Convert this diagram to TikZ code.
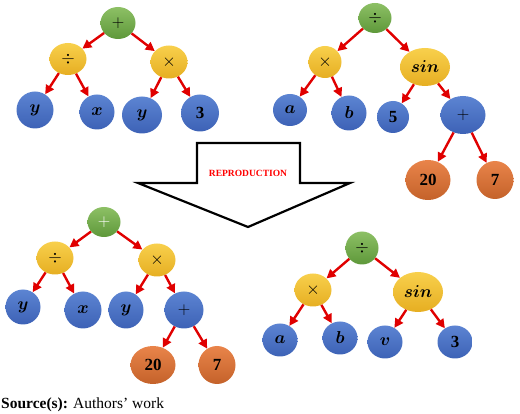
\documentclass[tikz,border=0pt]{standalone}
\usepackage{fontspec}
\setmainfont{Liberation Serif}
\usepackage{amsmath,bm}
\usetikzlibrary{shapes.geometric,arrows.meta}

\definecolor{grnT}{HTML}{8DC065}
\definecolor{grnB}{HTML}{5E983A}
\definecolor{ylwT}{HTML}{F8D04C}
\definecolor{ylwB}{HTML}{E6AE22}
\definecolor{bluT}{HTML}{5C84D2}
\definecolor{bluB}{HTML}{3D62B6}
\definecolor{orgT}{HTML}{E9844A}
\definecolor{orgB}{HTML}{C4622A}
\definecolor{edred}{HTML}{E00000}

\begin{document}
\begin{tikzpicture}[x=1pt,y=-1pt,
nd/.style={ellipse,inner sep=0pt,text=black,font=\fontsize{17}{17}\selectfont},
sz/.style 2 args={minimum width=#1pt,minimum height=#2pt},
rt/.style={nd,top color=grnT,bottom color=grnB},
op/.style={nd,top color=ylwT,bottom color=ylwB},
lf/.style={nd,top color=bluT,bottom color=bluB},
nm/.style={nd,top color=orgT,bottom color=orgB},
ed/.style={draw=edred,line width=2.4pt,-{Triangle[length=9pt,width=9pt]}}]
\useasboundingbox (0,0) rectangle (520,414);

% first parent
\node[rt,sz={35}{32}] (a0) at (118,23) {$+$};
\node[op,sz={37}{32}] (a1) at (68,59) {$\div$};
\node[op,sz={37}{33}] (a2) at (169,62) {$\times$};
\node[lf,sz={37}{37}] (a3) at (35,110) {$\bm{y}$};
\node[lf,sz={35}{35}] (a4) at (97,112) {$\bm{x}$};
\node[lf,sz={40}{37}] (a5) at (142,115) {$\bm{y}$};
\node[lf,sz={38}{37}] (a6) at (200,113) {\textbf{3}};

% second parent
\node[rt,sz={33}{30}] (b0) at (375,18) {$\div$};
\node[op,sz={33}{32}] (b1) at (325,62) {$\times$};
\node[op,sz={50}{38}] (b2) at (425,67) {$\bm{sin}$};
\node[lf,sz={34}{32}] (b3) at (290,110) {$\bm{a}$};
\node[lf,sz={35}{35}] (b4) at (349,113) {$\bm{b}$};
\node[lf,sz={32}{32}] (b5) at (393,117) {\textbf{5}};
\node[lf,sz={45}{38}] (b6) at (463,115) {$+$};
\node[nm,sz={45}{40}] (b7) at (428,180) {\textbf{20}};
\node[nm,sz={37}{38}] (b8) at (495,180) {\textbf{7}};

% first offspring
\node[rt,sz={33}{30},text=white] (c0) at (104,222) {$+$};
\node[op,sz={37}{33}] (c1) at (55,258) {$\div$};
\node[op,sz={37}{33}] (c2) at (157,260) {$\times$};
\node[lf,sz={35}{35}] (c3) at (23,307) {$\bm{y}$};
\node[lf,sz={37}{37}] (c4) at (83,310) {$\bm{x}$};
\node[lf,sz={35}{37}] (c5) at (126,310) {$\bm{y}$};
\node[lf,sz={39}{37}] (c6) at (184,310) {$+$};
\node[nm,sz={45}{38}] (c7) at (153,365) {\textbf{20}};
\node[nm,sz={37}{38}] (c8) at (217,365) {\textbf{7}};

% second offspring
\node[rt,sz={33}{33}] (d0) at (362,248) {$\div$};
\node[op,sz={37}{33}] (d1) at (313,290) {$\times$};
\node[op,sz={50}{40}] (d2) at (418,292) {$\bm{sin}$};
\node[lf,sz={35}{33}] (d3) at (280,340) {$\bm{a}$};
\node[lf,sz={35}{33}] (d4) at (340,338) {$\bm{b}$};
\node[lf,sz={35}{33}] (d5) at (385,342) {$\bm{v}$};
\node[lf,sz={35}{33}] (d6) at (455,342) {\textbf{3}};

\foreach \p/\c in {a0/a1,a0/a2,a1/a3,a1/a4,a2/a5,a2/a6,
  b0/b1,b0/b2,b1/b3,b1/b4,b2/b5,b2/b6,b6/b7,b6/b8,
  c0/c1,c0/c2,c1/c3,c1/c4,c2/c5,c2/c6,c6/c7,c6/c8,
  d0/d1,d0/d2,d1/d3,d1/d4,d2/d5,d2/d6}
  \draw[ed] (\p) -- (\c);

% big arrow
\draw[line width=2.2pt,fill=white,line join=miter]
  (197,143) -- (300,143) -- (300,183) -- (350,183) -- (248,227)
  -- (138,183) -- (197,183) -- cycle;
\node[text=red,font=\bfseries\fontsize{9.5}{9.5}\selectfont] (rep) at (248,173) {REPRODUCTION};

\node[anchor=base west,inner sep=0pt,font=\fontsize{15.5}{16}\selectfont] (src) at (1,408)
  {\textbf{Source(s):} Authors’ work};
\end{tikzpicture}
\end{document}
